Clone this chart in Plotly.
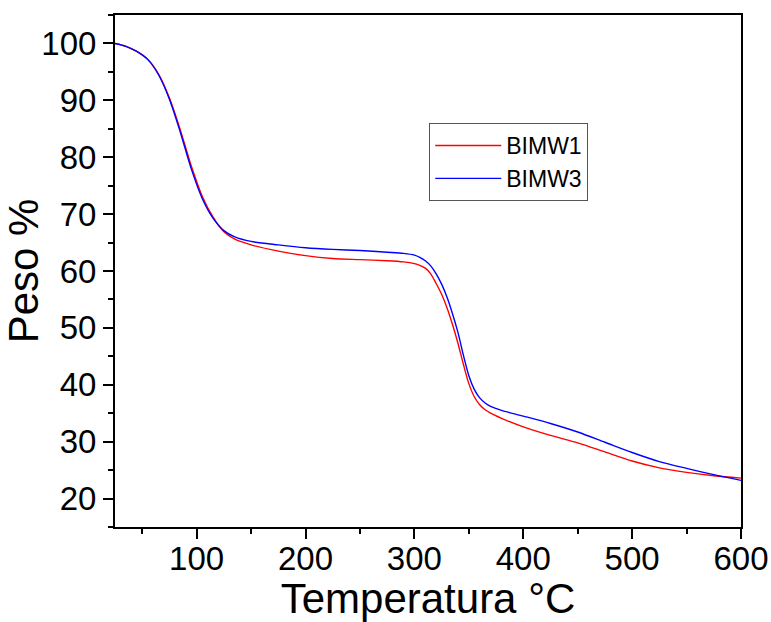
import plotly.graph_objects as go

temp = [25, 35, 45, 55, 65, 75, 85, 95, 105, 115, 125, 135, 150, 175, 200, 225, 250,
        275, 290, 300, 305, 310, 315, 320, 325, 330, 335, 340, 345, 350, 355, 360, 365,
        370, 380, 400, 425, 450, 475, 500, 525, 550, 575, 600]

bimw1 = [100, 99.5, 98.6, 97.2, 94.6, 90.4, 84.8, 78.5, 73.2, 69.5, 66.9, 65.6, 64.6,
         63.5, 62.7, 62.2, 62.0, 61.8, 61.6, 61.3, 61.0, 60.5, 59.5, 57.8, 55.9, 53.5,
         50.6, 47.3, 43.6, 40.2, 37.9, 36.5, 35.6, 35.0, 34.1, 32.6, 31.1, 29.8, 28.2,
         26.6, 25.4, 24.6, 24.0, 23.6]

bimw3 = [100, 99.5, 98.6, 97.2, 94.5, 90.2, 84.4, 78.0, 72.8, 69.3, 67.1, 66.0, 65.2,
         64.6, 64.1, 63.8, 63.6, 63.3, 63.1, 62.8, 62.4, 61.8, 60.9, 59.5, 57.7, 55.4,
         52.5, 49.2, 45.2, 41.6, 39.2, 37.7, 36.8, 36.2, 35.5, 34.5, 33.2, 31.7, 29.9,
         28.1, 26.5, 25.3, 24.2, 23.2]

x_ticks = [100, 200, 300, 400, 500, 600]
y_ticks = [20, 30, 40, 50, 60, 70, 80, 90, 100]

FONT = "Liberation Sans, Arial, sans-serif"

fig = go.Figure()
fig.add_trace(go.Scatter(x=temp, y=bimw1, mode="lines", name="BIMW1",
                         line=dict(color="#ff0000", width=1.4, shape="spline", smoothing=0.8)))
fig.add_trace(go.Scatter(x=temp, y=bimw3, mode="lines", name="BIMW3",
                         line=dict(color="#0000ff", width=1.4, shape="spline", smoothing=0.8)))

axis_common = dict(showgrid=False, zeroline=False, showline=True, linecolor="black",
                   linewidth=2, mirror=True, ticks="outside", ticklen=10, tickwidth=2,
                   tickcolor="black", automargin=False,
                   tickfont=dict(family=FONT, size=33, color="black"))

fig.update_xaxes(range=[25, 600], tickvals=x_ticks, ticklabelstandoff=-9,
                 title=dict(text="Temperatura °C", font=dict(family=FONT, size=42, color="black"),
                            standoff=18),
                 minor=dict(dtick=50, tick0=0, ticks="outside", ticklen=5, tickwidth=2,
                            tickcolor="black"),
                 **axis_common)
fig.update_yaxes(range=[15, 105], tickvals=y_ticks,
                 title=dict(text="Peso %", font=dict(family=FONT, size=42, color="black"),
                            standoff=1),
                 minor=dict(dtick=5, tick0=0, ticks="outside", ticklen=5, tickwidth=2,
                            tickcolor="black"),
                 **axis_common)

fig.update_layout(
    width=771, height=622,
    margin=dict(l=115, r=30, t=15, b=95),
    plot_bgcolor="white", paper_bgcolor="white",
    font=dict(family=FONT, color="black"),
    legend=dict(x=0.502, y=0.789, xanchor="left", yanchor="top",
                bordercolor="#555555", borderwidth=1, bgcolor="white",
                font=dict(family=FONT, size=23, color="black"),
                itemwidth=66),
)

fig.write_html("out.html")
